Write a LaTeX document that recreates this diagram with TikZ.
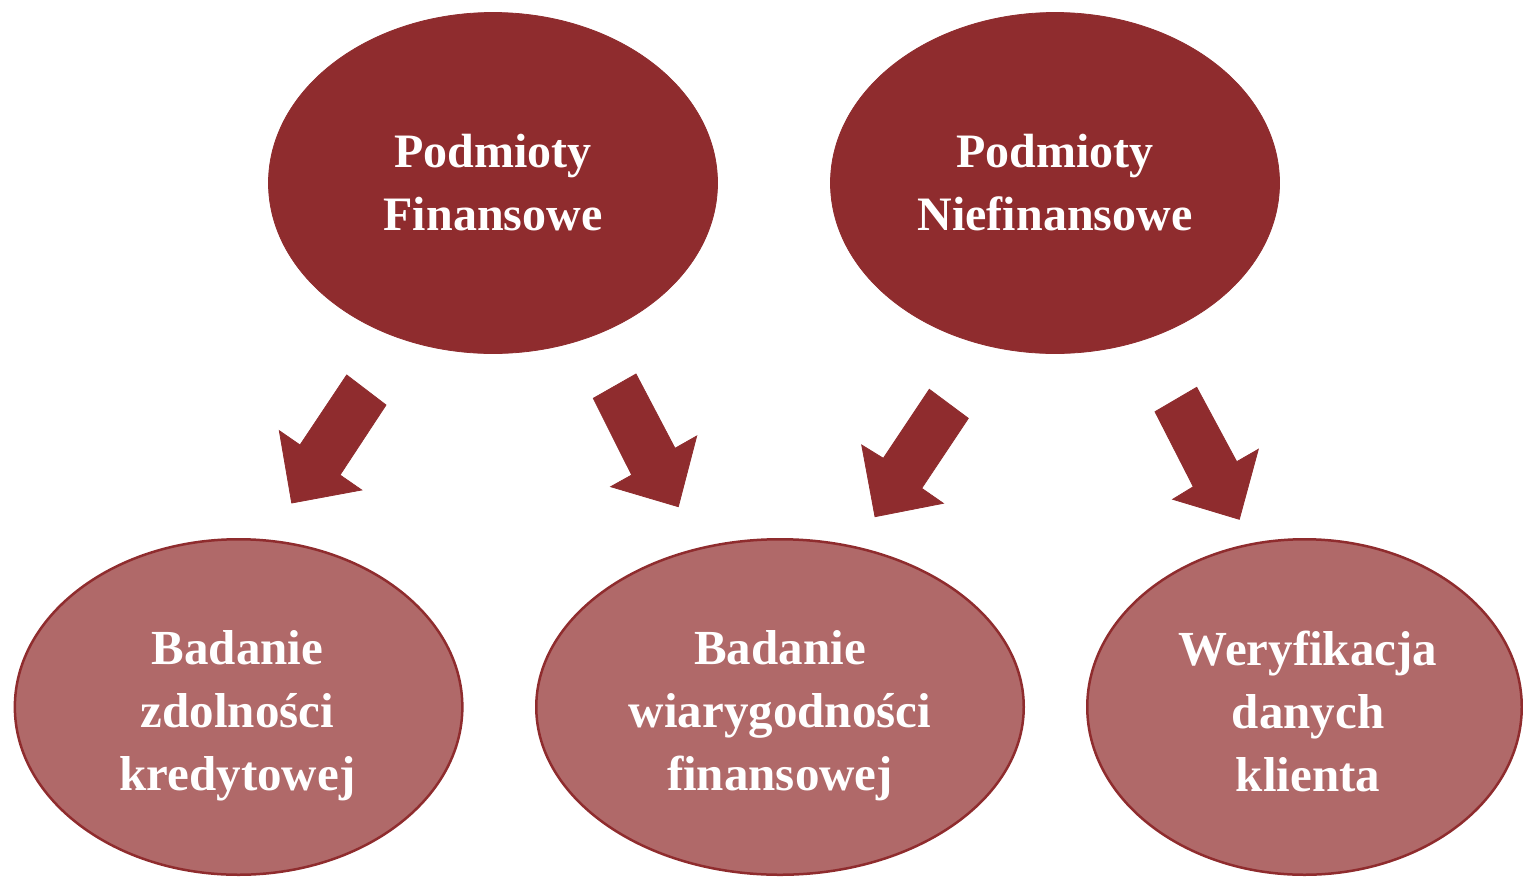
\documentclass[tikz,border=0pt]{standalone}
\usepackage{fontspec}
\setmainfont{Liberation Serif}
\usetikzlibrary{shapes.geometric}
\definecolor{darkred}{HTML}{8F2C2E}
\definecolor{lightred}{HTML}{B06969}
\tikzset{
  topell/.style={ellipse, fill=darkred, draw=darkred, line width=0.8pt, inner sep=0pt,
     minimum width=449pt, minimum height=341pt},
  botell/.style={ellipse, fill=lightred, draw=darkred, line width=2.5pt, inner sep=0pt,
     minimum height=335.5pt},
  lbl/.style={text=white, align=center, inner sep=0pt,
     font=\fontsize{48}{63}\selectfont\bfseries},
  lblb/.style={lbl, font=\fontsize{49}{63}\selectfont\bfseries},
  blockarrow/.style={fill=darkred, draw=darkred, line width=0.8pt, line join=miter}
}
\begin{document}
\begin{tikzpicture}[x=1pt,y=-1pt]
\useasboundingbox (0,0) rectangle (1523,876);
% top ellipses
\node[topell] (pf) at (493,183) {};
\node[topell] (pn) at (1055,183) {};
\node[lbl] (pft) at (pf.center) {Podmioty\\Finansowe};
\node[lbl] (pnt) at (pn.center) {Podmioty\\Niefinansowe};
% bottom ellipses
\node[botell, minimum width=447.5pt] (bz) at (238.6,707) {};
\node[botell, minimum width=487.5pt] (bw) at (780,707) {};
\node[botell, minimum width=434.5pt] (wd) at (1304.5,707) {};
\node[lblb] (bzt) at (237.5,716) {Badanie\\zdolności\\kredytowej};
\node[lblb] (bwt) at (780,716) {Badanie\\wiarygodności\\finansowej};
\node[lblb] (wdt) at (1308,711) {Weryfikacja\\danych\\klienta};
% block arrows
\fill[blockarrow] (346.7,375) -- (386,405) -- (340,475) -- (361.7,490) -- (291.7,503) -- (279.3,430.7) -- (300,445) -- cycle;
\fill[blockarrow] (593.3,398.3) -- (636,374) -- (675,448.3) -- (696.7,436) -- (678.3,506.7) -- (610.7,486.7) -- (631.7,475) -- cycle;
\fill[blockarrow] (929.3,389.3) -- (968.3,418.3) -- (921.7,488.3) -- (943.3,503.3) -- (875,516.7) -- (861.7,445) -- (883.3,458.3) -- cycle;
\fill[blockarrow] (1155,411.7) -- (1196.7,387.3) -- (1236.7,461.7) -- (1258.3,449.3) -- (1239.3,519.3) -- (1172.7,499.3) -- (1193.3,486.7) -- cycle;
\end{tikzpicture}
\end{document}
